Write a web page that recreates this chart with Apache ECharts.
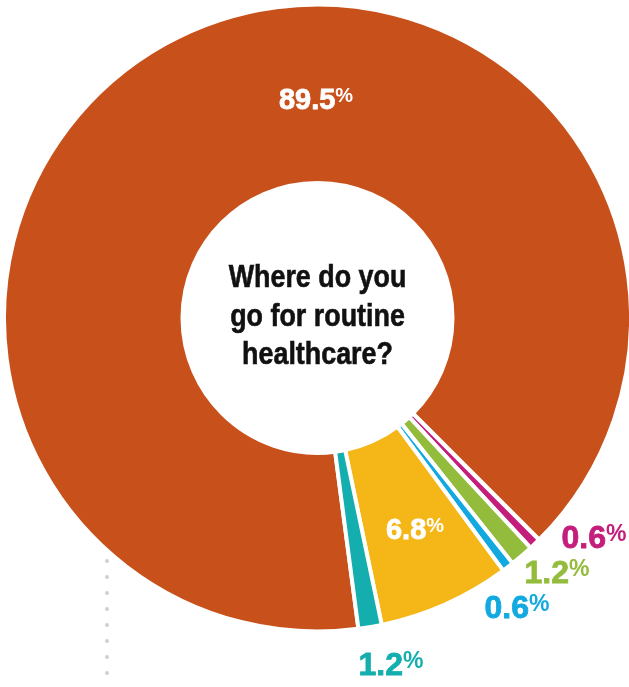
<!DOCTYPE html>
<html><head><meta charset="utf-8">
<script src="https://cdn.jsdelivr.net/npm/echarts@6/dist/echarts.min.js"></script>
<style>html,body{margin:0;padding:0;background:#fff}#c{width:629px;height:687px}</style>
</head><body><div id="c"></div>
<script>
// Data
const categories = ['Option 1', 'Option 2', 'Option 3', 'Option 4', 'Option 5', 'Option 6'];
const values = [89.5, 0.6, 1.2, 0.6, 6.8, 1.2];
const colors = ['#C8511B', '#C41D7B', '#94BC3C', '#12A9E0', '#F5B617', '#13AEAD'];
const questionLines = ['Where do you', 'go for routine', 'healthcare?'];

// Label placement (layout only)
const labelPos = [[316, 101], [594, 539], [557, 574], [517, 609], [415, 531], [391, 666]];
const labelInside = [true, false, false, false, true, false];

const numFont = "'Liberation Sans', Arial, sans-serif";
const data = categories.map((name, i) => {
  const c = labelInside[i] ? '#fff' : colors[i];
  return {
    name: name,
    value: values[i],
    itemStyle: { color: colors[i] },
    label: {
      color: c,
      rich: {
        n: { fontSize: labelInside[i] ? 29 : 32, fontWeight: 'bold', fontFamily: numFont, color: c, textBorderColor: c, textBorderWidth: 0.8 },
        p: { fontSize: labelInside[i] ? 20 : 23, fontWeight: 'bold', fontFamily: numFont, color: c, verticalAlign: 'top' }
      }
    }
  };
});

const chart = echarts.init(document.getElementById('c'), null, { renderer: 'canvas' });
chart.setOption({
  animation: false,
  backgroundColor: '#ffffff',
  graphic: [
    {
      type: 'text',
      x: 317.5, y: 317,
      scaleX: 0.84,
      style: {
        text: questionLines.join('\n'),
        align: 'center', verticalAlign: 'middle',
        fontSize: 32, fontWeight: 'bold', lineHeight: 38.5,
        fontFamily: "'Liberation Sans', Arial, sans-serif",
        fill: '#111', stroke: '#111', lineWidth: 0.6
      }
    },
    {
      type: 'line',
      shape: { x1: 107, y1: 561, x2: 107, y2: 680 },
      style: { stroke: '#cfcfcf', lineWidth: 4, lineDash: [0, 16], lineCap: 'round' }
    }
  ],
  series: [{
    type: 'pie',
    center: [317.5, 318],
    radius: [135, 313.5],
    startAngle: 277.5,
    clockwise: true,
    avoidLabelOverlap: false,
    emphasis: { disabled: true },
    itemStyle: { borderColor: '#fff', borderWidth: 4 },
    label: {
      show: true,
      position: 'inside',
      formatter: p => '{n|' + p.value.toFixed(1) + '}{p|%}'
    },
    labelLine: { show: false },
    labelLayout: params => {
      const pos = labelPos[params.dataIndex];
      return { x: pos[0], y: pos[1], align: 'center', verticalAlign: 'middle' };
    },
    data: data
  }]
});
</script>
</body></html>
